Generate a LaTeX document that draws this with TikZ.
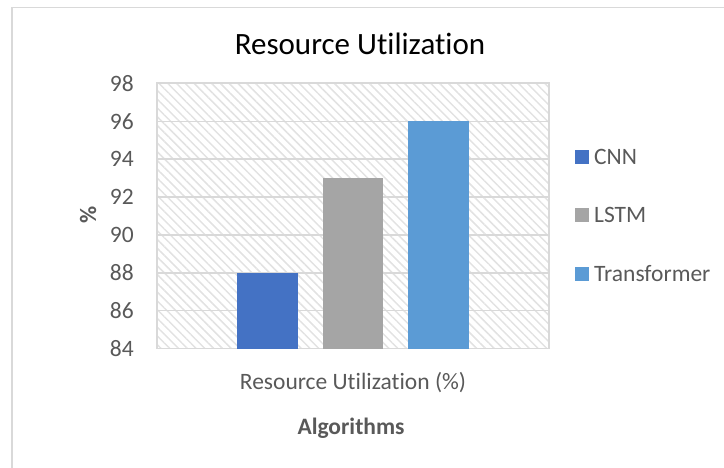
\documentclass[tikz,border=0pt]{standalone}
\usepackage{fontspec}
\setmainfont[Ligatures={NoCommon,NoDiscretionary}]{Carlito}
\usetikzlibrary{patterns.meta}
\definecolor{cnnblue}{HTML}{4472C4}
\definecolor{lstmgray}{HTML}{A5A5A5}
\definecolor{trfblue}{HTML}{5B9BD5}
\definecolor{gridgray}{HTML}{D9D9D9}
\definecolor{txtgray}{HTML}{595959}
\newcommand{\chartfont}{\fontsize{23.5}{28}\selectfont}
\tikzset{
  frameln/.style={draw=gridgray, line width=1.4pt},
  gridln/.style={draw=gridgray, line width=1.5pt},
  hatchbg/.style={pattern={Lines[angle=-45, distance=6.2pt, line width=1.5pt]},
                  pattern color=gridgray!75},
  ticklbl/.style={anchor=east, inner sep=0pt, font=\chartfont, text=txtgray},
  axlbl/.style={inner sep=0pt, font=\chartfont, text=txtgray},
  legkey/.style={rectangle, inner sep=0pt, minimum size=14pt},
  leglbl/.style={anchor=west, inner sep=0pt, font=\chartfont, text=txtgray},
}

\begin{document}
\begin{tikzpicture}[x=1pt, y=-1pt]
\useasboundingbox (0,0) rectangle (724,468);

% ============================ chart frame ===============================
\draw[frameln] (12,468) -- (12,7.5) -- (724,7.5);

\node[font=\fontsize{31}{36}\selectfont, inner sep=0pt] (title) at (360,44)
  {Resource Utilization};

% ============================ plot area =================================
\fill[hatchbg] (157,83) rectangle (549,348.5);
\foreach \v in {84,86,...,98}
{
  \pgfmathsetmacro{\py}{348.5-(\v-84)*18.93}
  \draw[gridln] (157,\py) -- (549,\py);
  \node[ticklbl] (t\v) at (134,\py) {\v};
}
\draw[gridln] (157,83) rectangle (549,348.5);

% ============================ bars and legend ===========================
\foreach \i/\name/\val/\col/\ly in {%
1/CNN/88/cnnblue/157,%
2/LSTM/93/lstmgray/215,%
3/Transformer/96/trfblue/274%
}
{
  \pgfmathsetmacro{\bx}{237+(\i-1)*85.5}
  \pgfmathsetmacro{\by}{348.5-(\val-84)*18.93}
  \fill[\col] (\bx,\by) rectangle (\bx+60.5,348.5);
  \node[legkey, fill=\col] (k\i) at (582,\ly) {};
  \node[leglbl] (l\i) at (594,\ly) {\name};
}

% ============================ axis titles ===============================
\node[axlbl] (xcat) at (353,383) {Resource Utilization (\%)};
\node[axlbl, font=\chartfont\bfseries] (xlab) at (351,428) {Algorithms};
\node[axlbl, font=\chartfont\bfseries, rotate=90] (ylab) at (88,215) {\%};

\end{tikzpicture}
\end{document}
